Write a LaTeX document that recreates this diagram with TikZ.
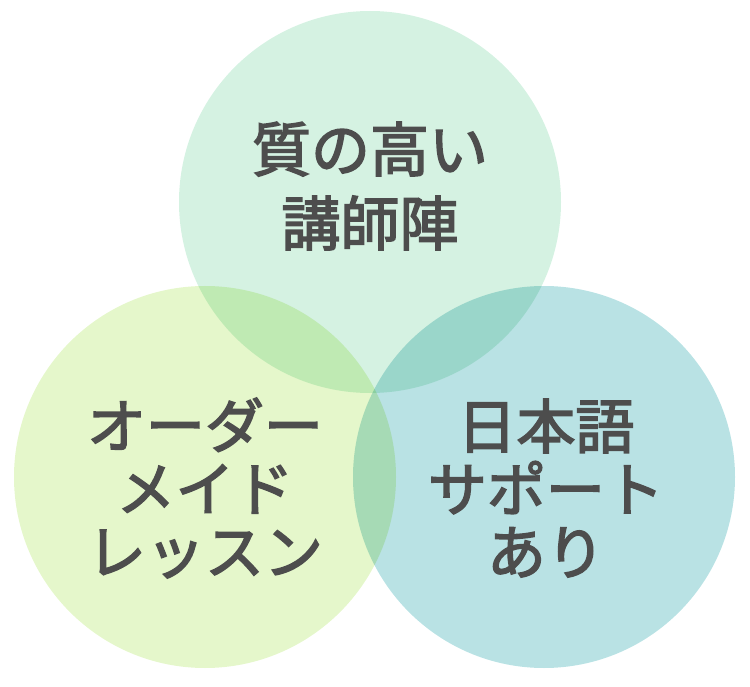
\documentclass[tikz,border=0pt]{standalone}
\usepackage{fontspec}
\usepackage{tikz}
\usetikzlibrary{positioning}
\newfontfamily\jpfont{Noto Sans CJK JP}[FakeBold=2.6]
\definecolor{mintfill}{HTML}{D5F2E2}
\definecolor{limefill}{HTML}{E5F7CB}
\definecolor{tealfill}{HTML}{B9E2E4}
\definecolor{inkgray}{HTML}{4D4D4D}
\tikzset{
    bubble/.style={circle, minimum size=382, inner sep=0pt, blend mode=multiply},
    caption/.style={align=center, text=inkgray, font=\jpfont\fontsize{59}{63}\selectfont},
    toptext/.style={caption, font=\jpfont\fontsize{59}{74}\selectfont}
}
\begin{document}
\begin{tikzpicture}[x=1pt, y=-1pt]
    \useasboundingbox (0,0) rectangle (750,687);
    \node (quality) [bubble, fill=mintfill] at (370,202) {};
    \node (custom) [bubble, fill=limefill] at (205,477) {};
    \node (support) [bubble, fill=tealfill] at (544,477) {};

    \node (qualitytext) [toptext] at (370,186) {質の高い\\講師陣};
    \node (customtext) [caption] at (205,488) {オーダー\\メイド\\レッスン};
    \node (supporttext) [caption] at (546,488) {日本語\\サポート\\あり};
\end{tikzpicture}
\end{document}
